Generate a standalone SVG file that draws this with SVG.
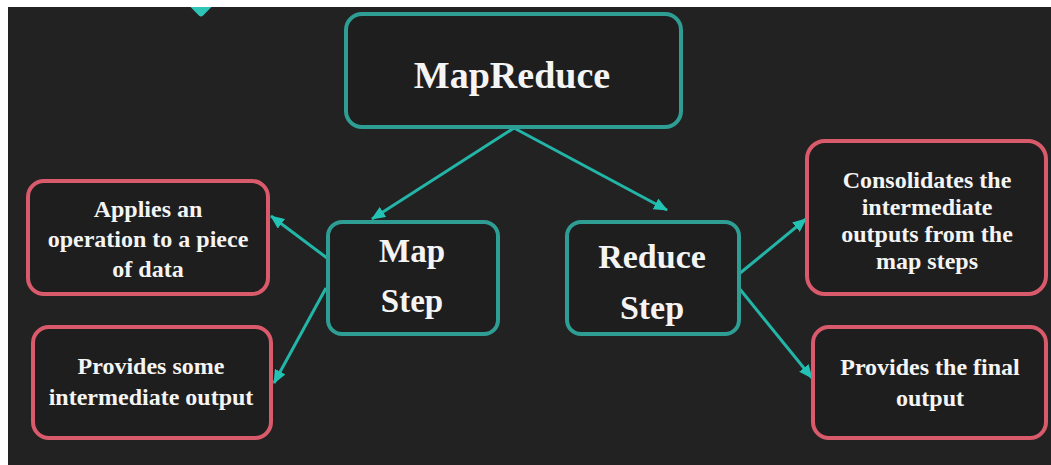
<svg xmlns="http://www.w3.org/2000/svg" width="1051" height="465" viewBox="0 0 1051 465">
  <style>
    .teal { fill: #1e1e1e; stroke: #2e9d93; stroke-width: 4; }
    .red { fill: #1e1e1e; stroke: #d95a6b; stroke-width: 4; }
    .lbl { font-family: "Liberation Serif", "Times New Roman", serif; font-weight: bold; fill: #f4f4f4; text-anchor: middle; }
    .conn { stroke: #22b5a8; stroke-width: 3; fill: none; marker-end: url(#head); }
  </style>
  <defs>
    <marker id="head" viewBox="0 0 14 12" refX="13" refY="6" markerWidth="14" markerHeight="12" markerUnits="userSpaceOnUse" orient="auto">
      <path d="M0,0 L14,6 L0,12 z" fill="#22c2b4"/>
    </marker>
  </defs>

  <!-- canvas -->
  <rect x="0" y="0" width="1051" height="465" fill="#222222"/>

  <!-- partial decorative diamond at the top edge -->
  <rect x="190" y="-9" width="22" height="22" rx="3" fill="#2ec4b6" transform="rotate(45 201 2)"/>

  <!-- white frame on top and left -->
  <rect x="0" y="0" width="1051" height="7" fill="#ffffff"/>
  <rect x="0" y="0" width="8" height="465" fill="#ffffff"/>

  <!-- connectors -->
  <g id="connectors">
    <line class="conn" x1="514" y1="128" x2="372" y2="219"/>
    <line class="conn" x1="514" y1="128" x2="667" y2="210"/>
    <line class="conn" x1="327" y1="258" x2="271" y2="216"/>
    <line class="conn" x1="326" y1="288" x2="274" y2="383"/>
    <line class="conn" x1="739" y1="274" x2="806" y2="219"/>
    <line class="conn" x1="739" y1="288" x2="812" y2="378"/>
  </g>

  <g id="mapreduce">
    <rect class="teal" x="346" y="14" width="335" height="113" rx="16"/>
    <text class="lbl" x="512" y="88" font-size="38">MapReduce</text>
  </g>

  <g id="map-step">
    <rect class="teal" x="328" y="222" width="170" height="112" rx="14"/>
    <text class="lbl" x="412" y="262" font-size="33">Map</text>
    <text class="lbl" x="412" y="312" font-size="33">Step</text>
  </g>

  <g id="reduce-step">
    <rect class="teal" x="567" y="222" width="172" height="112" rx="14"/>
    <text class="lbl" x="652" y="268" font-size="34">Reduce</text>
    <text class="lbl" x="652" y="319" font-size="34">Step</text>
  </g>

  <g id="applies">
    <rect class="red" x="28" y="181" width="240" height="113" rx="16"/>
    <text class="lbl" x="148" y="217" font-size="24">Applies an</text>
    <text class="lbl" x="148" y="247" font-size="24">operation to a piece</text>
    <text class="lbl" x="148" y="277" font-size="24">of data</text>
  </g>

  <g id="provides-some">
    <rect class="red" x="33" y="327" width="238" height="111" rx="16"/>
    <text class="lbl" x="151" y="374" font-size="24">Provides some</text>
    <text class="lbl" x="151" y="405" font-size="24">intermediate output</text>
  </g>

  <g id="consolidates">
    <rect class="red" x="807" y="141" width="239" height="153" rx="18"/>
    <text class="lbl" x="927" y="188" font-size="24">Consolidates the</text>
    <text class="lbl" x="927" y="215" font-size="24">intermediate</text>
    <text class="lbl" x="927" y="242" font-size="24">outputs from the</text>
    <text class="lbl" x="927" y="269" font-size="24">map steps</text>
  </g>

  <g id="provides-final">
    <rect class="red" x="813" y="327" width="233" height="111" rx="16"/>
    <text class="lbl" x="930" y="375" font-size="24">Provides the final</text>
    <text class="lbl" x="930" y="406" font-size="24">output</text>
  </g>
</svg>
